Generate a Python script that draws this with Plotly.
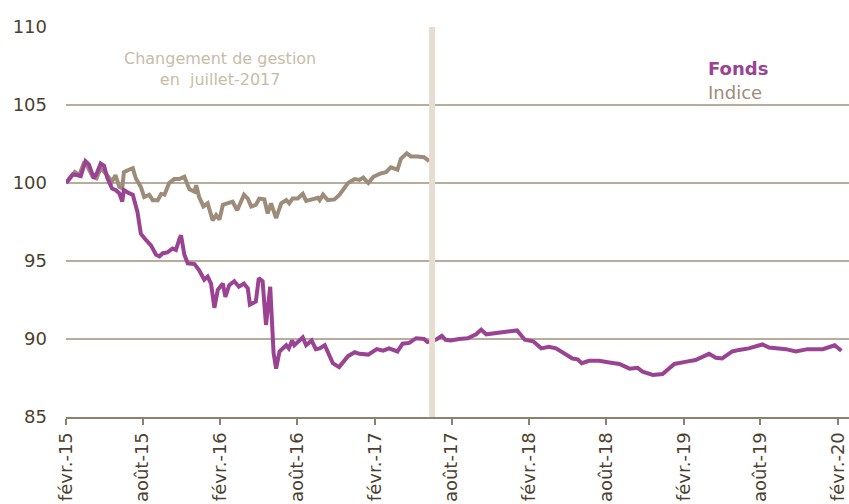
import plotly.graph_objects as go

# ---- data ----
fonds_dates = [
    "2015-02-01", "2015-02-17", "2015-03-01", "2015-03-08", "2015-03-19", "2015-03-27", "2015-04-08", "2015-04-16",
    "2015-04-24", "2015-05-02", "2015-05-10", "2015-05-21", "2015-05-29", "2015-06-07", "2015-06-14", "2015-06-18",
    "2015-06-30", "2015-07-09", "2015-07-20", "2015-07-28", "2015-08-09", "2015-08-21", "2015-09-02", "2015-09-10",
    "2015-09-18", "2015-09-29", "2015-10-11", "2015-10-19", "2015-10-27", "2015-10-31", "2015-11-08", "2015-11-16",
    "2015-12-02", "2015-12-13", "2015-12-25", "2016-01-02", "2016-01-10", "2016-01-18", "2016-01-26", "2016-02-07",
    "2016-02-13", "2016-02-22", "2016-03-05", "2016-03-16", "2016-03-28", "2016-04-06", "2016-04-11", "2016-04-25",
    "2016-05-02", "2016-05-11", "2016-05-19", "2016-05-29", "2016-06-06", "2016-06-12", "2016-06-20", "2016-07-06",
    "2016-07-12", "2016-07-20", "2016-07-25", "2016-08-14", "2016-08-22", "2016-09-04", "2016-09-14", "2016-09-23",
    "2016-10-05", "2016-10-24", "2016-11-08", "2016-11-29", "2016-12-15", "2016-12-26", "2017-01-16", "2017-02-05",
    "2017-02-20", "2017-03-06", "2017-03-26", "2017-04-07", "2017-04-23", "2017-05-09", "2017-05-28", "2017-06-05",
    "2017-06-25", "2017-07-09", "2017-07-18", "2017-07-30", "2017-08-19", "2017-09-08", "2017-09-28", "2017-10-10",
    "2017-10-22", "2017-11-15", "2017-12-08", "2017-12-20", "2018-01-03", "2018-01-21", "2018-02-10", "2018-03-01",
    "2018-03-19", "2018-04-05", "2018-04-24", "2018-05-14", "2018-05-26", "2018-06-05", "2018-06-22", "2018-07-16",
    "2018-08-09", "2018-09-02", "2018-09-26", "2018-10-15", "2018-10-27", "2018-11-20", "2018-12-13", "2019-01-10",
    "2019-02-08", "2019-03-01", "2019-04-02", "2019-04-18", "2019-05-03", "2019-05-27", "2019-06-12", "2019-07-05",
    "2019-08-06", "2019-08-22", "2019-10-01", "2019-10-24", "2019-11-21", "2019-12-27", "2020-01-24", "2020-02-09",
]
fonds_values = [
    100.0, 100.55, 100.5, 100.45, 101.4, 101.2, 100.3, 100.7,
    101.25, 101.1, 100.3, 99.65, 99.55, 99.35, 98.8, 99.55,
    99.35, 99.25, 98.15, 96.75, 96.35, 96.0, 95.4, 95.3,
    95.5, 95.55, 95.8, 95.7, 96.4, 96.65, 95.4, 94.85,
    94.8, 94.4, 93.8, 94.0, 93.55, 92.0, 93.15, 93.55,
    92.7, 93.45, 93.7, 93.35, 93.55, 93.25, 92.2, 92.4,
    93.9, 93.7, 90.9, 93.35, 89.1, 88.1, 89.2, 89.6,
    89.4, 89.9, 89.6, 90.1, 89.6, 89.9, 89.35, 89.4,
    89.6, 88.45, 88.2, 88.9, 89.15, 89.05, 89.0, 89.35,
    89.25, 89.4, 89.2, 89.7, 89.75, 90.05, 90.0, 89.8,
    89.95, 90.2, 89.95, 89.9, 90.0, 90.05, 90.3, 90.6,
    90.3, 90.4, 90.45, 90.55, 90.55, 89.95, 89.85, 89.4,
    89.5, 89.4, 89.1, 88.75, 88.7, 88.45, 88.6, 88.6,
    88.5, 88.4, 88.1, 88.15, 87.9, 87.7, 87.75, 88.4,
    88.55, 88.65, 89.05, 88.8, 88.75, 89.2, 89.3, 89.4,
    89.65, 89.45, 89.35, 89.2, 89.35, 89.35, 89.6, 89.25,
]

indice_dates = [
    "2015-02-01", "2015-02-22", "2015-03-04", "2015-03-15", "2015-03-23", "2015-04-05", "2015-04-14", "2015-04-24",
    "2015-05-06", "2015-05-14", "2015-05-21", "2015-05-29", "2015-06-07", "2015-06-14", "2015-06-18", "2015-06-30",
    "2015-07-09", "2015-07-16", "2015-07-28", "2015-08-05", "2015-08-17", "2015-08-25", "2015-09-06", "2015-09-14",
    "2015-09-22", "2015-10-03", "2015-10-15", "2015-10-27", "2015-11-08", "2015-11-16", "2015-11-20", "2015-12-02",
    "2015-12-06", "2015-12-13", "2015-12-23", "2016-01-02", "2016-01-14", "2016-01-22", "2016-01-30", "2016-02-07",
    "2016-02-19", "2016-03-01", "2016-03-12", "2016-03-28", "2016-04-06", "2016-04-14", "2016-04-25", "2016-05-03",
    "2016-05-15", "2016-05-23", "2016-05-31", "2016-06-12", "2016-06-24", "2016-07-06", "2016-07-13", "2016-07-21",
    "2016-08-02", "2016-08-14", "2016-08-22", "2016-09-08", "2016-09-19", "2016-09-23", "2016-10-01", "2016-10-12",
    "2016-10-28", "2016-11-09", "2016-11-29", "2016-12-15", "2016-12-26", "2017-01-04", "2017-01-16", "2017-01-28",
    "2017-02-13", "2017-02-27", "2017-03-10", "2017-03-26", "2017-04-03", "2017-04-17", "2017-04-27", "2017-05-12",
    "2017-05-28", "2017-06-09",
]
indice_values = [
    100.0, 100.7, 100.5, 101.25, 101.1, 100.4, 100.3, 100.95,
    100.6, 100.3, 100.1, 100.5, 99.75, 99.65, 100.7, 100.85,
    100.95, 100.3, 99.75, 99.1, 99.25, 98.9, 98.9, 99.3,
    99.25, 100.0, 100.25, 100.25, 100.4, 99.85, 99.6, 99.45,
    99.85, 99.1, 98.5, 98.7, 97.6, 97.95, 97.65, 98.6,
    98.7, 98.8, 98.25, 99.25, 99.0, 98.5, 98.6, 99.0,
    98.95, 98.05, 98.7, 97.75, 98.7, 98.9, 98.7, 99.0,
    99.0, 99.3, 98.85, 98.95, 99.05, 98.9, 99.25, 98.9,
    98.95, 99.25, 100.0, 100.25, 100.2, 100.35, 100.0, 100.4,
    100.6, 100.7, 101.0, 100.85, 101.55, 101.9, 101.7, 101.7,
    101.65, 101.4,
]

tick_dates = ["2015-02-01", "2015-08-01", "2016-02-01", "2016-08-01", "2017-02-01", "2017-08-01",
              "2018-02-01", "2018-08-01", "2019-02-01", "2019-08-01", "2020-02-01"]
tick_labels = ["févr.-15", "août-15", "févr.-16", "août-16", "févr.-17", "août-17",
               "févr.-18", "août-18", "févr.-19", "août-19", "févr.-20"]
y_ticks = [85, 90, 95, 100, 105, 110]

change_date = "2017-06-16"
series_names = ["Fonds", "Indice"]
annotation_text = "Changement de gestion<br>en\u00a0 juillet-2017"

# ---- styles ----
PURPLE = "#9b4393"
BROWN = "#9d8c7a"
GRID = "#b8ac9d"
AXIS = "#8f806e"
TEXT = "#4d3f2f"
BAR = "#e6ddd1"
FONT = "DejaVu Sans"

fig = go.Figure()
fig.add_trace(go.Scatter(x=indice_dates, y=indice_values, mode="lines", name=series_names[1],
                         line=dict(color=BROWN, width=4), showlegend=False))
fig.add_trace(go.Scatter(x=fonds_dates, y=fonds_values, mode="lines", name=series_names[0],
                         line=dict(color=PURPLE, width=4), showlegend=False))

# vertical marker for management change
fig.add_shape(type="line", xref="x", yref="y", x0=change_date, x1=change_date, y0=84.85, y1=110,
              line=dict(color=BAR, width=6), layer="above")

# white box behind legend text (breaks the 105 gridline)
fig.add_shape(type="rect", xref="paper", yref="y", x0=0.792, x1=0.925, y0=104.0, y1=106.2,
              fillcolor="white", line=dict(width=0), layer="between")

fig.add_annotation(xref="paper", yref="y", x=0.817, y=107.37, xanchor="left", yanchor="middle",
                   text="<b>" + series_names[0] + "</b>", showarrow=False,
                   font=dict(family=FONT, size=18, color=PURPLE))
fig.add_annotation(xref="paper", yref="y", x=0.817, y=105.77, xanchor="left", yanchor="middle",
                   text=series_names[1], showarrow=False,
                   font=dict(family=FONT, size=18, color=BROWN))
fig.add_annotation(xref="paper", yref="y", x=0.1967, y=107.3, xanchor="center", yanchor="middle",
                   text=annotation_text, showarrow=False,
                   font=dict(family=FONT, size=16, color="#c8bca8"))

fig.update_layout(
    width=849, height=504,
    margin=dict(l=66, r=0, t=27, b=87),
    plot_bgcolor="white", paper_bgcolor="white",
    font=dict(family=FONT, color=TEXT),
    xaxis=dict(type="date", range=["2015-02-01", "2020-02-27"], tickvals=tick_dates, ticktext=tick_labels,
               tickangle=-90, showgrid=False, zeroline=False, showline=True, linecolor=AXIS, linewidth=2,
               ticks="outside", ticklen=6, tickwidth=1.5, tickcolor=AXIS,
               tickfont=dict(family=FONT, size=18, color=TEXT)),
    yaxis=dict(range=[85, 110], tickvals=y_ticks, showgrid=True, gridcolor=GRID, gridwidth=1.5,
               zeroline=False, showline=False, ticks="", ticklabelstandoff=18,
               tickfont=dict(family=FONT, size=18, color=TEXT)),
)

fig.write_html("out.html", config={"displayModeBar": False},
               post_script="document.body.style.margin='0';document.body.style.overflow='hidden';")
